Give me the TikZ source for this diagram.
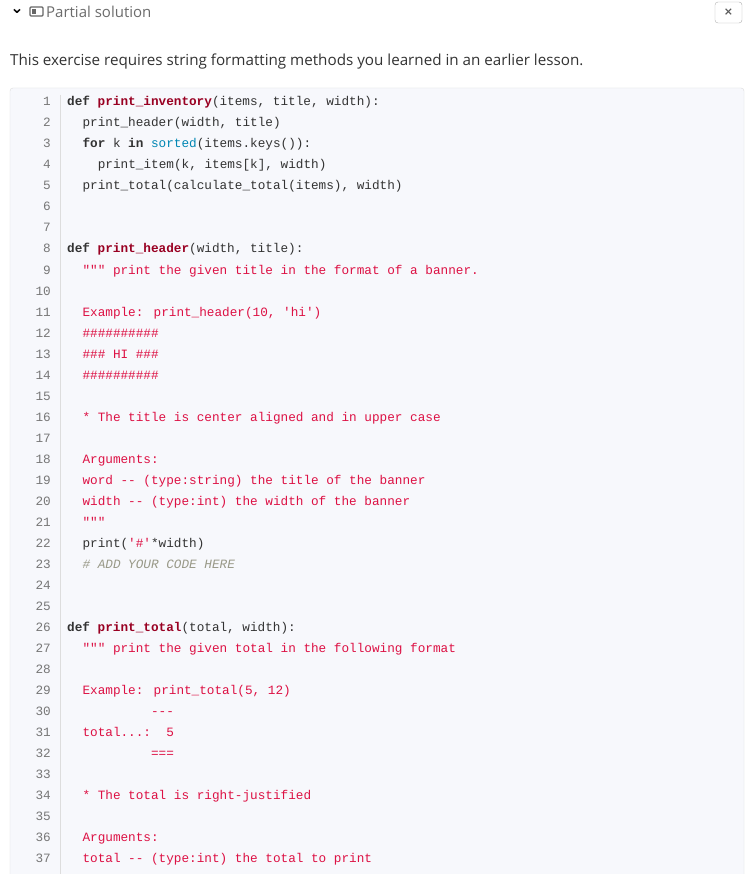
\documentclass[tikz,border=0pt]{standalone}
\usepackage{fontspec}
\setmainfont{Open Sans}
\newfontfamily\mono{Liberation Mono}
\newfontfamily\djvfont{DejaVu Sans}
\definecolor{txt}{HTML}{333333}
\definecolor{fn}{HTML}{990022}
\definecolor{dstr}{HTML}{DD1144}
\definecolor{cmt}{HTML}{999988}
\definecolor{blt}{HTML}{0086B3}
\definecolor{codebg}{HTML}{F7F8FC}
\definecolor{gut}{HTML}{DDDDDD}
\definecolor{lnum}{HTML}{777777}
\tikzset{code/.style={anchor=base west,inner sep=0pt,font=\mono\fontsize{12.7}{14}\selectfont,text=txt},
 num/.style={anchor=base east,inner sep=0pt,font=\mono\fontsize{12.7}{14}\selectfont,text=lnum}}
\newcommand{\kw}[1]{\textbf{#1}}
\newcommand{\fnm}[1]{\textcolor{fn}{\textbf{#1}}}
\newcommand{\ds}[1]{\textcolor{dstr}{#1}}
\begin{document}
\begin{tikzpicture}[x=1pt,y=-1pt]
\useasboundingbox (0,0) rectangle (750,874);
\fill[white] (0,0) rectangle (750,874);
% header
\node[inner sep=0pt,font=\djvfont\fontsize{16}{16}\selectfont\bfseries] (chev) at (17,11) {⌄};
\draw[gray!80!black,line width=1.3pt,rounded corners=1pt] (30,7) rectangle (43,16);
\fill[gray!80!black] (32,9) rectangle (36,14);
\node[anchor=west,inner sep=0pt,text=gray!85!black,font=\fontsize{15}{15}\selectfont] (ps) at (46,12) {Partial solution};
\draw[gray!60,rounded corners=3pt,fill=white] (715,2) rectangle (742,23);
\node[inner sep=0pt,text=gray!70!black,font=\djvfont\fontsize{11}{11}\selectfont\bfseries] (cls) at (728.5,12.5) {×};
\node[anchor=base west,inner sep=0pt,text=txt,font=\fontsize{15.2}{16}\selectfont] (intro) at (10,66) {This exercise requires string formatting methods you learned in an earlier lesson.};
% code box
\draw[gut,fill=codebg,rounded corners=3pt] (10,88) rectangle (744,890);
\draw[gut] (60,95) -- (60,874);
\foreach \n in {1,...,37}{\node[num] (n\n) at (51,{106+21*(\n-1)}) {\n};}
\newcommand{\cl}[3]{\node[code] (c#1) at ({67+7.66*#2},{106+21*(#1-1)}) {#3};}
\cl{1}{0}{\kw{def} \fnm{print\_inventory}(items, title, width):}
\cl{2}{2}{print\_header(width, title)}
\cl{3}{2}{\kw{for} k \kw{in} \textcolor{blt}{sorted}(items.keys()):}
\cl{4}{4}{print\_item(k, items[k], width)}
\cl{5}{2}{print\_total(calculate\_total(items), width)}
\cl{8}{0}{\kw{def} \fnm{print\_header}(width, title):}
\cl{9}{2}{\ds{""" print the given title in the format of a banner.}}
\cl{11}{2}{\ds{Example: print\_header(10, 'hi')}}
\cl{12}{2}{\ds{\#\#\#\#\#\#\#\#\#\#}}
\cl{13}{2}{\ds{\#\#\# HI \#\#\#}}
\cl{14}{2}{\ds{\#\#\#\#\#\#\#\#\#\#}}
\cl{16}{2}{\ds{* The title is center aligned and in upper case}}
\cl{18}{2}{\ds{Arguments:}}
\cl{19}{2}{\ds{word -{}- (type:string) the title of the banner}}
\cl{20}{2}{\ds{width -{}- (type:int) the width of the banner}}
\cl{21}{2}{\ds{"""}}
\cl{22}{2}{print(\ds{'\#'}*width)}
\cl{23}{2}{\textcolor{cmt}{\itshape \# ADD YOUR CODE HERE}}
\cl{26}{0}{\kw{def} \fnm{print\_total}(total, width):}
\cl{27}{2}{\ds{""" print the given total in the following format}}
\cl{29}{2}{\ds{Example: print\_total(5, 12)}}
\cl{30}{2}{\ds{\ \ \ \ \ \ \ \ \ -{}-{}-}}
\cl{31}{2}{\ds{total...:\ \ 5}}
\cl{32}{2}{\ds{\ \ \ \ \ \ \ \ \ ===}}
\cl{34}{2}{\ds{* The total is right-justified}}
\cl{36}{2}{\ds{Arguments:}}
\cl{37}{2}{\ds{total -{}- (type:int) the total to print}}
\end{tikzpicture}
\end{document}
